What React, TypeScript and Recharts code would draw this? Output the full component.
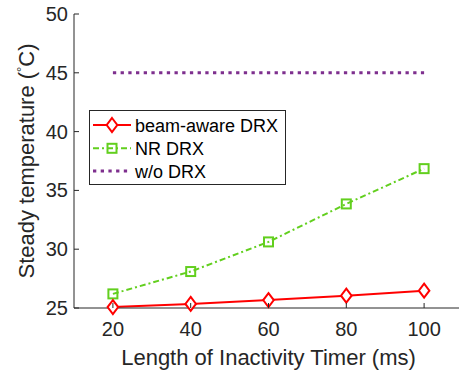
import React from 'react';
import { LineChart, Line, XAxis, YAxis, Legend } from 'recharts';

const xValues = [20, 40, 60, 80, 100];
const beamAware = [25.08, 25.35, 25.67, 26.05, 26.47];
const nrDrx = [26.2, 28.1, 30.62, 33.85, 36.85];
const woDrx = [45, 45, 45, 45, 45];
const xTicks = [20, 40, 60, 80, 100];
const yTicks = [25, 30, 35, 40, 45, 50];

const seriesNames = ['beam-aware DRX', 'NR DRX', 'w/o DRX'];
const RED = '#FF0000';
const GREEN = '#62CF1E';
const PURPLE = '#7E2F8E';
const AXIS = '#262626';
const FONT = "Arial, 'Liberation Sans', sans-serif";

const data = xValues.map((x, i) => ({
  x,
  beam: beamAware[i],
  nr: nrDrx[i],
  wo: woDrx[i],
}));

const Diamond = (props: any) => {
  const { cx, cy } = props;
  if (cx == null || cy == null) return null;
  const w = 5.3;
  const h = 7;
  return (
    <polygon
      points={`${cx},${cy - h} ${cx + w},${cy} ${cx},${cy + h} ${cx - w},${cy}`}
      fill="#fff"
      stroke={RED}
      strokeWidth={2}
    />
  );
};

const Square = (props: any) => {
  const { cx, cy } = props;
  if (cx == null || cy == null) return null;
  const s = 4.5;
  return (
    <rect x={cx - s} y={cy - s} width={2 * s} height={2 * s} fill="none" stroke={GREEN} strokeWidth={2} />
  );
};

const BottomTick = (props: any) => {
  const { x, y, payload } = props;
  return (
    <g>
      <line x1={x} x2={x} y1={y} y2={y - 5} stroke={AXIS} strokeWidth={1} />
      <text x={x} y={y + 28} textAnchor="middle" fontSize={20} fontFamily={FONT} fill={AXIS}>
        {payload.value}
      </text>
    </g>
  );
};

const TopTick = (props: any) => {
  const { x, y } = props;
  return <line x1={x} x2={x} y1={y} y2={y + 5} stroke={AXIS} strokeWidth={1} />;
};

const LeftTick = (props: any) => {
  const { x, y, payload } = props;
  return (
    <g>
      <line x1={x} x2={x + 5} y1={y} y2={y} stroke={AXIS} strokeWidth={1} />
      <text x={x - 6} y={y + 7} textAnchor="end" fontSize={20} fontFamily={FONT} fill={AXIS}>
        {payload.value}
      </text>
    </g>
  );
};

const YLabel = () => (
  <text
    transform="translate(34, 161) rotate(-90)"
    textAnchor="middle"
    fontSize={22}
    fontFamily={FONT}
    fill={AXIS}
  >
    Steady temperature (
    <tspan fontSize={13} dy={-8}>°</tspan>
    <tspan dy={8}>C)</tspan>
  </text>
);

const XLabel = () => (
  <text x={268.5} y={365} textAnchor="middle" fontSize={22} fontFamily={FONT} fill={AXIS}>
    Length of Inactivity Timer (ms)
  </text>
);

const LegendBox = () => {
  const rows = [15, 38.3, 61];
  return (
    <svg width={198} height={76} style={{ display: 'block' }}>
      <rect x={0.5} y={0.5} width={196} height={74} fill="#fff" stroke={AXIS} strokeWidth={1} />
      {/* beam-aware */}
      <line x1={4} x2={42} y1={rows[0]} y2={rows[0]} stroke={RED} strokeWidth={2} />
      <Diamond cx={23} cy={rows[0]} />
      {/* NR DRX */}
      <line x1={4} x2={42} y1={rows[1]} y2={rows[1]} stroke={GREEN} strokeWidth={2} strokeDasharray="6 3 2 3" />
      <Square cx={23} cy={rows[1]} />
      {/* w/o */}
      <line x1={4} x2={42} y1={rows[2]} y2={rows[2]} stroke={PURPLE} strokeWidth={3} strokeDasharray="3.3 4.4" />
      {seriesNames.map((n, i) => (
        <text key={n} x={46} y={rows[i] + 6.5} fontSize={18} fontFamily={FONT} fill="#000">
          {n}
        </text>
      ))}
    </svg>
  );
};

export default function App() {
  return (
    <div style={{ position: 'absolute', left: 0, top: 0, width: 459, height: 370, overflow: 'hidden', background: '#fff' }}>
      <LineChart width={470} height={370} data={data} margin={{ top: 14, right: 7, left: 0, bottom: 0 }}>
        <XAxis
          dataKey="x"
          type="number"
          domain={[10, 110]}
          ticks={xTicks}
          interval={0}
          height={62}
          tickSize={0}
          tickMargin={0}
          tickLine={false}
          tick={<BottomTick />}
          axisLine={{ stroke: AXIS, strokeWidth: 1 }}
          label={<XLabel />}
        />
        <XAxis
          xAxisId="top"
          orientation="top"
          dataKey="x"
          type="number"
          domain={[10, 110]}
          ticks={xTicks}
          interval={0}
          height={0}
          tickSize={0}
          tickMargin={0}
          tickLine={false}
          tick={<TopTick />}
          axisLine={{ stroke: AXIS, strokeWidth: 1 }}
        />
        <YAxis
          type="number"
          domain={[25, 50]}
          ticks={yTicks}
          interval={0}
          width={74}
          tickSize={0}
          tickMargin={0}
          tickLine={false}
          tick={<LeftTick />}
          axisLine={{ stroke: AXIS, strokeWidth: 1 }}
          label={<YLabel />}
        />
        <Legend
          layout="horizontal"
          verticalAlign="middle"
          align="center"
          content={<LegendBox />}
          wrapperStyle={{ left: 89, top: 110, width: 198, height: 76 }}
        />
        <Line
          dataKey="wo"
          name={seriesNames[2]}
          stroke={PURPLE}
          strokeWidth={3}
          strokeDasharray="3.3 4.4"
          dot={false}
          activeDot={false}
          isAnimationActive={false}
          type="linear"
        />
        <Line
          dataKey="nr"
          name={seriesNames[1]}
          stroke={GREEN}
          strokeWidth={2}
          strokeDasharray="6 3 2 3"
          dot={<Square />}
          activeDot={false}
          isAnimationActive={false}
          type="linear"
        />
        <Line
          dataKey="beam"
          name={seriesNames[0]}
          stroke={RED}
          strokeWidth={2}
          dot={<Diamond />}
          activeDot={false}
          isAnimationActive={false}
          type="linear"
        />
      </LineChart>
    </div>
  );
}
